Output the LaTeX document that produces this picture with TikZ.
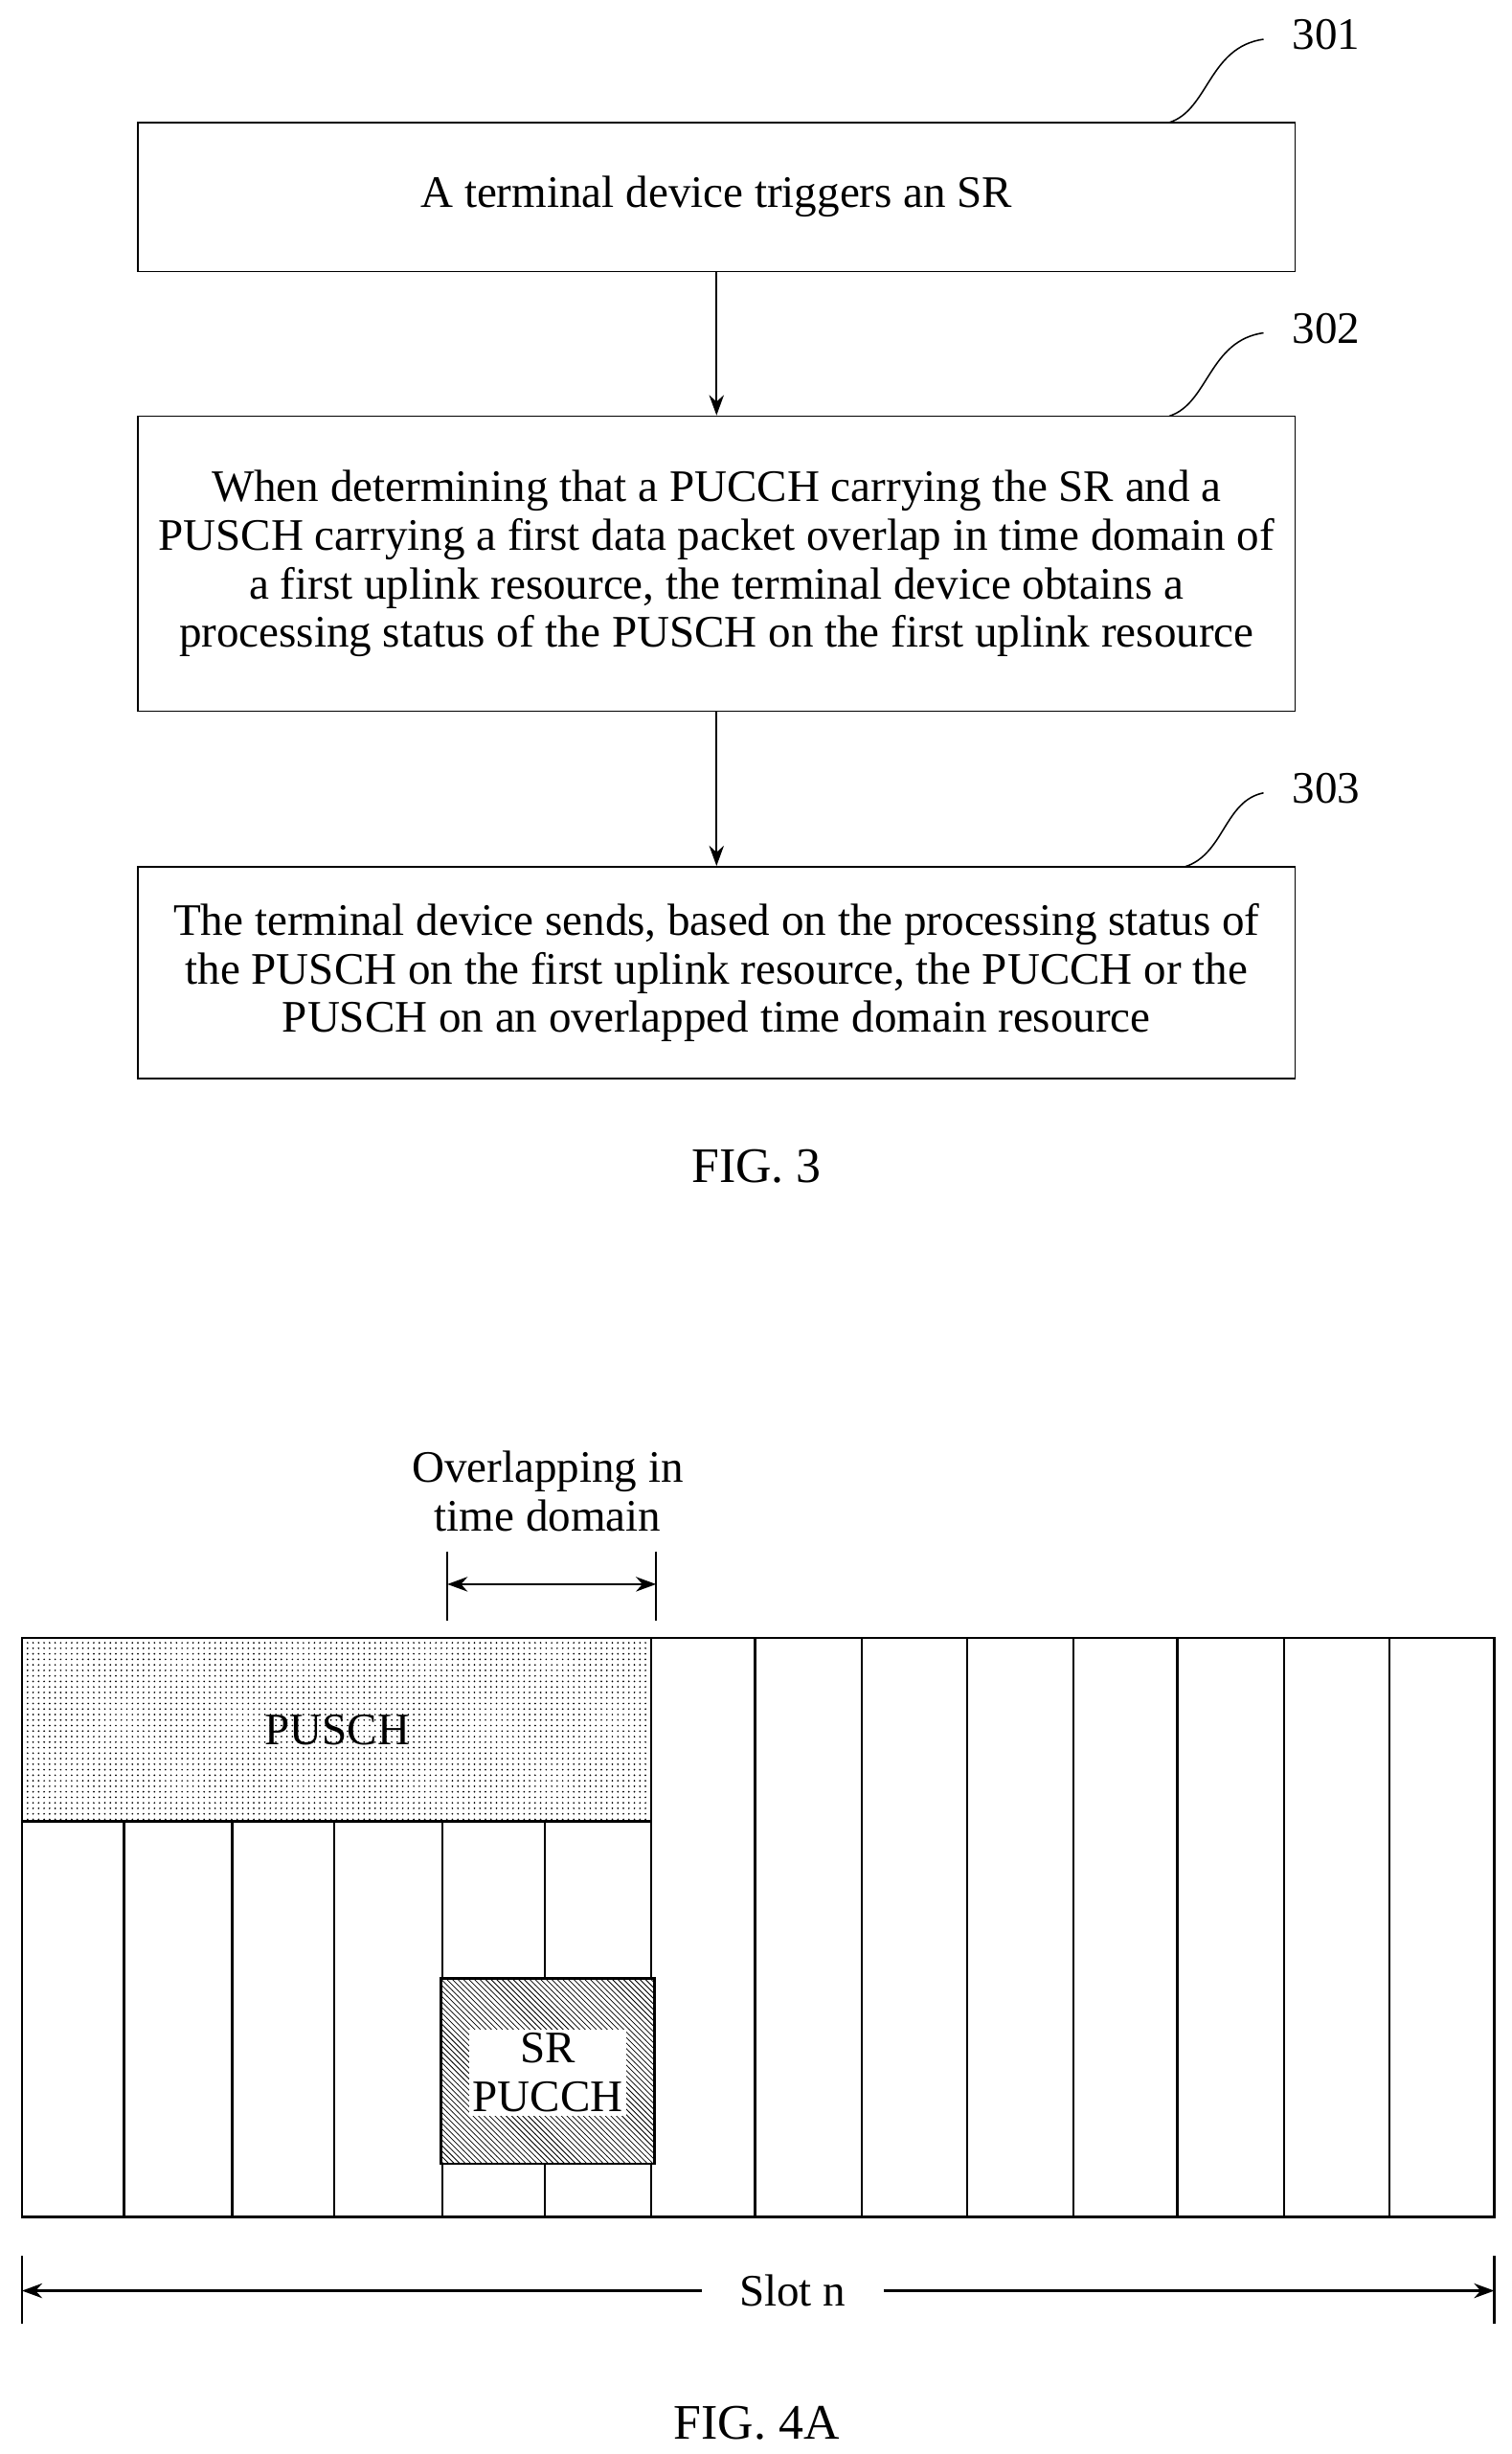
\documentclass[tikz,border=0pt]{standalone}
\usepackage{fontspec}
\setmainfont{Liberation Serif}
\usetikzlibrary{patterns,arrows.meta}
\tikzset{
  stepbox/.style={ % process box of FIG. 3
    draw, thick, rectangle, inner sep=0pt, align=center,
    font=\fontsize{24.5}{26.4}\selectfont
  },
  leader/.style={thick},
  txt/.style={font=\fontsize{24.5}{26.4}\selectfont, align=center},
  figcap/.style={font=\fontsize{27}{30}\selectfont}
}
\begin{document}
\begin{tikzpicture}[x=0.03cm, y=-0.03cm, line width=1.2pt]
  \useasboundingbox (0,0) rectangle (963,1563);

  % FIG. 3
  \node[stepbox, minimum width=737*0.03cm, minimum height=95*0.03cm] (s301) at (456.5,125.5) {A terminal device triggers an SR};
  \node[stepbox, minimum width=737*0.03cm, minimum height=188*0.03cm] (s302) at (456.5,359)
    {When determining that a PUCCH carrying the SR and a\\PUSCH carrying a first data packet overlap in time domain of\\a first uplink resource, the terminal device obtains a\\processing status of the PUSCH on the first uplink resource};
  \node[stepbox, minimum width=737*0.03cm, minimum height=135*0.03cm] (s303) at (456.5,619.5)
    {The terminal device sends, based on the processing status of\\the PUSCH on the first uplink resource, the PUCCH or the\\PUSCH on an overlapped time domain resource};
  \draw[-{Stealth[length=11pt,width=8pt]}] (s301) -- (s302);
  \draw[-{Stealth[length=11pt,width=8pt]}] (s302) -- (s303);

  \node[txt] (l301) at (845,22) {301};
  \node[txt] (l302) at (845,209) {302};
  \node[txt] (l303) at (845,502) {303};
  \draw[leader] (745,78) .. controls (770,70) and (770,30) .. (805,25);
  \draw[leader] (745,265) .. controls (770,257) and (770,217) .. (805,212);
  \draw[leader] (755,552) .. controls (780,544) and (780,510) .. (805,505);
  \node[figcap] (fig3) at (482,743) {FIG. 3};

  % FIG. 4A
  \node[txt] (olap) at (349,950) {Overlapping in\\time domain};
  \coordinate (oa) at (285,1009);
  \coordinate (ob) at (418,1009);
  \draw (285,988) -- (285,1032) (418,988) -- (418,1032);
  \draw[{Stealth[length=11pt,width=8pt]}-{Stealth[length=11pt,width=8pt]}] (oa) -- (ob);

  \draw[pattern=dots] (14,1043) rectangle (415,1160);
  \node[txt] (pusch) at (215,1102) {PUSCH};
  \foreach \x in {79,148,213,282,347}
    \draw (\x,1160) -- (\x,1412);
  \foreach \x in {415,481,549,616,684,750,818,885}
    \draw (\x,1043) -- (\x,1412);
  \draw[fill=white] (281,1260) rectangle (417,1378);
  \draw[pattern=north west lines] (281,1260) rectangle (417,1378);
  \node[txt, fill=white, inner sep=2pt] (pucch) at (349,1320) {SR\\PUCCH};
  \draw (14,1043) rectangle (952,1412);

  \draw (14,1437) -- (14,1480) (952,1437) -- (952,1480);
  \node[txt, fill=white, inner xsep=20pt] (slot) at (505,1459) {Slot n};
  \coordinate (sa) at (14,1459);
  \coordinate (sb) at (952,1459);
  \draw[-{Stealth[length=11pt,width=8pt]}] (slot.west) -- (sa);
  \draw[-{Stealth[length=11pt,width=8pt]}] (slot.east) -- (sb);
  \node[figcap] (fig4) at (482,1543) {FIG. 4A};
\end{tikzpicture}
\end{document}
